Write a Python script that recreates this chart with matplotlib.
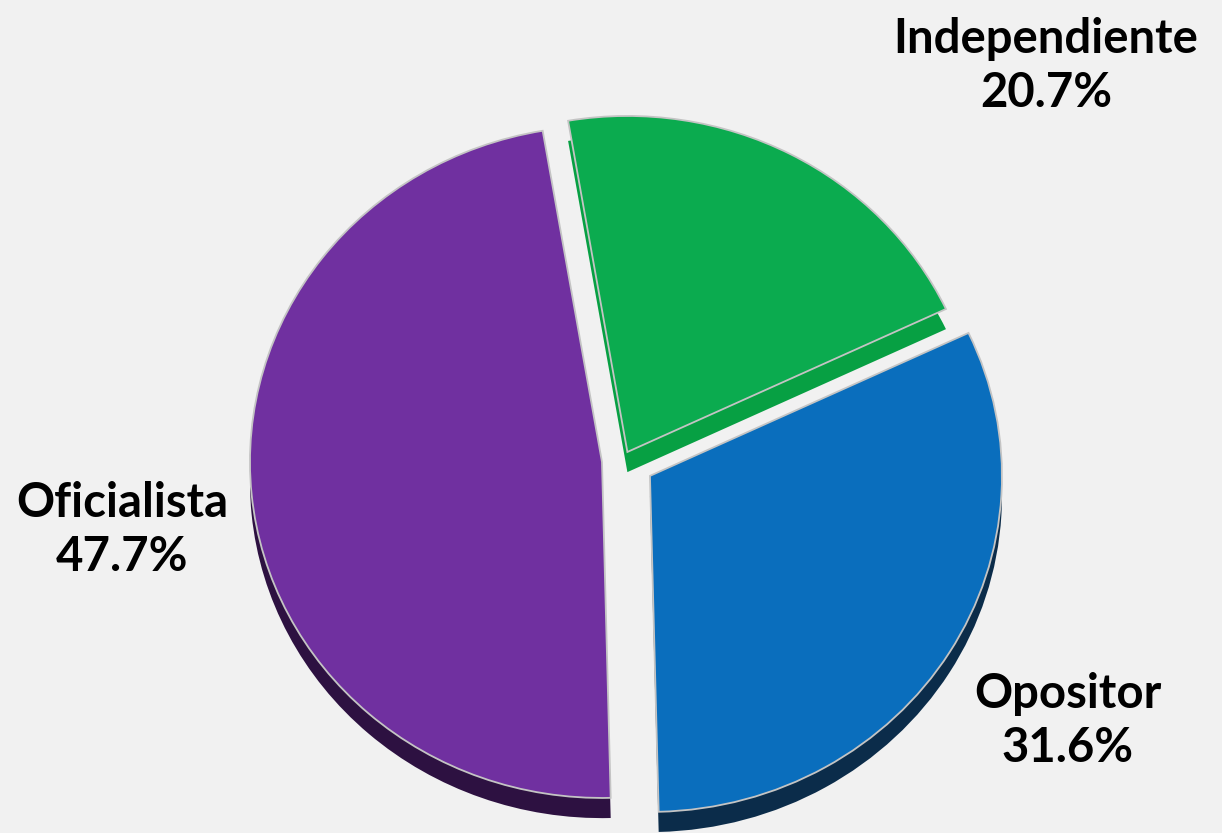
import matplotlib.pyplot as plt

# data
categories = ['Oficialista', 'Opositor', 'Independiente']
shares = [47.7, 31.6, 20.7]
colors = ['#7030a0', '#0a6ebd', '#0bab4f']
side_colors = ['#2d1141', '#0b2c4a', '#07a043']
explode = [0.06, 0.09, 0.027]

# label positions in pixels of the 1222x833 picture
label_pos = {'Oficialista': (122, 530), 'Opositor': (1068, 721), 'Independiente': (1046, 66)}

W, H = 1222, 833
fig = plt.figure(figsize=(W / 100, H / 100), dpi=100)
fig.patch.set_facecolor('#f1f1f1')
ax = fig.add_axes([0, 0, 1, 1])
ax.set_facecolor('#f1f1f1')

# depth of the slices: same pie, darker, shifted down
ax.pie(shares, colors=side_colors, explode=explode, startangle=99.7,
       counterclock=True, center=(0, -0.06), radius=1,
       wedgeprops=dict(linewidth=0))
# top face
ax.pie(shares, colors=colors, explode=explode, startangle=99.7,
       counterclock=True, center=(0, 0), radius=1,
       wedgeprops=dict(edgecolor='#c4c4c4', linewidth=1.3))

# pie center sits at (623, 460) px, radius 352 px across and 336 px down
cx, cy, rx, ry = 623, 460, 352, 336
ax.set_aspect('auto')
ax.set_xlim(-cx / rx, (W - cx) / rx)
ax.set_ylim((cy - H) / ry, cy / ry)
ax.axis('off')

for name, val in zip(categories, shares):
    px, py = label_pos[name]
    ax.text(px / W, 1 - py / H, f'{name}\n{val:.1f}%', transform=ax.transAxes,
            ha='center', va='center', fontsize=34, fontweight='bold',
            family='Lato', linespacing=1.3, color='black')

fig.savefig('out.png', dpi=100, facecolor=fig.get_facecolor())
